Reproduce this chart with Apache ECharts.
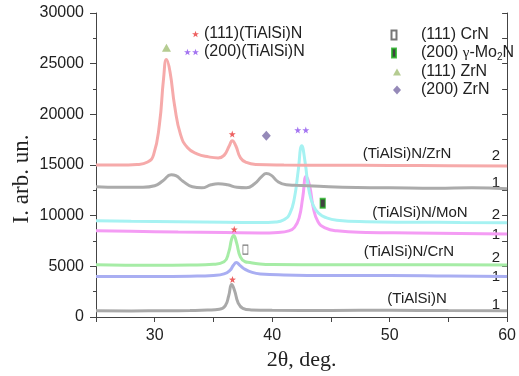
<!DOCTYPE html>
<html>
<head>
<meta charset="utf-8">
<script src="https://cdn.jsdelivr.net/npm/echarts@6/dist/echarts.min.js"></script>
<style>
  html, body { margin: 0; padding: 0; background: #fff; }
  #chart { width: 519px; height: 376px; }
</style>
</head>
<body>
<div id="chart"></div>
<script>
// XRD curves, [2theta, intensity], offset per coating
const tiAlSiN1 = [[25, 620], [28, 600], [31, 620], [33, 640], [34.5, 680], [35.5, 760], [36.0, 1100], [36.3, 2100], [36.55, 3200], [36.8, 2600], [37.1, 1400], [37.5, 850], [38.2, 700], [40, 660], [45, 650], [50, 660], [55, 640], [60, 620]]
const crN1 = [[25, 4000], [30, 4000], [33, 4030], [35, 4100], [35.9, 4250], [36.4, 4600], [36.7, 5100], [36.95, 5380], [37.25, 5100], [37.7, 4700], [38.3, 4400], [39, 4250], [41, 4150], [45, 4100], [50, 4100], [55, 4050], [60, 4000]]
const crN2 = [[25, 5150], [30, 5100], [33, 5130], [35, 5200], [35.9, 5450], [36.3, 6400], [36.55, 7700], [36.72, 8050], [36.95, 7400], [37.3, 5900], [37.7, 5450], [38.1, 5380], [38.6, 5280], [40, 5180], [45, 5150], [50, 5150], [55, 5150], [60, 5120]]
const moN1 = [[25, 8500], [28, 8450], [32, 8380], [36, 8330], [39, 8300], [40.5, 8350], [41.4, 8500], [41.9, 8850], [42.3, 9800], [42.6, 11800], [42.9, 13900], [43.2, 12900], [43.5, 10800], [43.9, 9400], [44.5, 8800], [45.5, 8500], [48, 8350], [52, 8300], [56, 8250], [60, 8200]]
const moN2 = [[25, 9500], [28, 9450], [32, 9400], [36, 9350], [39, 9330], [40.3, 9380], [41.0, 9600], [41.5, 10200], [41.9, 11800], [42.2, 14300], [42.52, 16900], [42.8, 15300], [43.1, 12700], [43.5, 11000], [44.0, 10200], [44.6, 9800], [45.5, 9550], [48, 9400], [52, 9350], [56, 9330], [60, 9300]]
const zrN1 = [[25, 12850], [27, 12800], [29, 12800], [30, 12950], [30.7, 13450], [31.4, 14050], [31.8, 13950], [32.4, 13400], [33.2, 12850], [34, 12750], [34.8, 13050], [35.4, 13150], [36.2, 13050], [37, 12800], [37.8, 12750], [38.5, 13150], [39.1, 13850], [39.5, 14150], [39.9, 14000], [40.5, 13350], [41.2, 13050], [42, 13000], [44, 12900], [46, 12800], [50, 12750], [54, 12700], [57, 12750], [60, 12650]]
const zrN2 = [[25, 15000], [27, 15000], [28.5, 15050], [29.4, 15300], [29.9, 16000], [30.4, 19000], [30.75, 23500], [31.0, 25400], [31.3, 24200], [31.7, 20800], [32.2, 18000], [32.8, 16700], [33.6, 16100], [34.6, 15800], [35.4, 15700], [35.9, 15950], [36.35, 16900], [36.6, 17400], [36.9, 16900], [37.3, 15700], [37.8, 15250], [38.6, 15050], [41, 15000], [45, 14980], [50, 14950], [55, 14930], [60, 14900]]

// phase markers
const tiAlSiN111 = [[36.6, 18050], [36.77, 8650], [36.62, 3700]]
const tiAlSiN200 = [[42.52, 18450]]
const crN111 = [[37.72, 6650]]
const mo2N200 = [[44.3, 11220]]
const zrN111 = [[31.0, 26580]]
const zrN200 = [[39.5, 17880]]

const curveLabels = [
  { text: '(TiAlSi)N/ZrN', x: 407, y: 154 },
  { text: '2', x: 496, y: 156 },
  { text: '1', x: 496, y: 183 },
  { text: '(TiAlSi)N/MoN', x: 420, y: 213 },
  { text: '2', x: 496, y: 215 },
  { text: '1', x: 496, y: 235 },
  { text: '(TiAlSi)N/CrN', x: 409, y: 252 },
  { text: '2', x: 496, y: 258 },
  { text: '1', x: 496, y: 277 },
  { text: '(TiAlSi)N', x: 417, y: 299 },
  { text: '1', x: 496, y: 305 }
]

const star = 'M5,0L6.18,3.38L9.76,3.45L6.9,5.62L7.94,9.05L5,7L2.06,9.05L3.1,5.62L0.24,3.45L3.82,3.38Z'
const star2 = 'M16,0L17.18,3.38L20.76,3.45L17.9,5.62L18.94,9.05L16,7L13.06,9.05L14.1,5.62L11.24,3.45L14.82,3.38Z'

const sans = 'Liberation Sans'
const serif = 'Liberation Serif'
const ink = '#222'
const frame = '#444'

const lineSeries = (name, data, color) => ({
  name,
  type: 'line',
  data,
  smooth: 0.5,
  showSymbol: false,
  silent: true,
  lineStyle: { color, width: 3 },
  z: 2
})

const markSeries = (name, data, symbol, size, style) => ({
  name,
  type: 'scatter',
  data,
  symbol,
  symbolSize: size,
  itemStyle: style,
  silent: true,
  z: 5
})

const chart = echarts.init(document.getElementById('chart'))
chart.setOption({
  animation: false,
  backgroundColor: '#fff',
  grid: { left: 96, right: 8, top: 13, bottom: 56 },
  legend: [
    {
      left: 179,
      top: 21,
      orient: 'vertical',
      itemWidth: 15,
      itemHeight: 7,
      itemGap: 2,
      selectedMode: false,
      textStyle: { fontFamily: sans, fontSize: 16, color: ink, lineHeight: 16 },
      data: [
        { name: '(111)(TiAlSi)N', icon: 'path://M0.24,0M20.76,9.05' + star2 },
        { name: '(200)(TiAlSi)N', icon: 'path://' + star + star2 }
      ]
    },
    {
      left: 382,
      top: 22,
      orient: 'vertical',
      itemWidth: 28,
      itemHeight: 12,
      itemGap: 2,
      selectedMode: false,
      textStyle: {
        fontFamily: sans,
        fontSize: 16,
        color: ink,
        lineHeight: 16,
        rich: {
          g: { fontFamily: serif, fontSize: 15, color: ink },
          sub: { fontFamily: sans, fontSize: 10, color: ink, padding: [8, 0, 0, 0] }
        }
      },
      formatter: (n) => (n === '(200) γ-Mo2N' ? '(200) {g|γ}-Mo{sub|2}N' : n),
      data: [
        { name: '(111) CrN', icon: 'path://M0,0M28,12M3.5,1.5h5v9h-5z' },
        { name: '(200) γ-Mo2N', icon: 'path://M0,0M28,12M4,1.5h4v9h-4z' },
        { name: '(111) ZrN', icon: 'path://M0,0M28,12M9,2.5L13,9.5H5Z' },
        { name: '(200) ZrN', icon: 'path://M0,0M28,12M9,1.5L13,6L9,10.5L5,6Z' }
      ]
    }
  ],
  xAxis: [
    {
      type: 'value',
      min: 25,
      max: 60,
      interval: 5,
      position: 'bottom',
      axisLine: { show: true, lineStyle: { color: frame, width: 1 } },
      axisTick: { show: true, inside: false, length: 5, lineStyle: { color: frame } },
      axisLabel: {
        formatter: (v) => (v % 10 === 0 ? String(v) : ''),
        fontFamily: sans,
        fontSize: 16,
        color: ink,
        margin: 11
      },
      splitLine: { show: false },
      name: '2θ, deg.',
      nameLocation: 'middle',
      nameGap: 32,
      nameTextStyle: { fontFamily: serif, fontSize: 22, color: ink }
    },
    {
      type: 'value',
      min: 25,
      max: 60,
      interval: 5,
      position: 'top',
      axisLine: { show: true, lineStyle: { color: frame, width: 1 } },
      axisTick: { show: true, inside: true, length: 5, lineStyle: { color: frame } },
      axisLabel: { show: false },
      splitLine: { show: false }
    }
  ],
  yAxis: [
    {
      type: 'value',
      min: 0,
      max: 30000,
      interval: 5000,
      position: 'left',
      axisLine: { show: true, lineStyle: { color: frame, width: 1 } },
      axisTick: { show: true, inside: false, length: 6, lineStyle: { color: frame } },
      minorTick: { show: true, splitNumber: 2, length: 3, lineStyle: { color: frame } },
      axisLabel: { formatter: (v) => String(v), fontFamily: sans, fontSize: 16, color: ink, margin: 12 },
      splitLine: { show: false }
    },
    {
      type: 'value',
      min: 0,
      max: 30000,
      interval: 2500,
      position: 'right',
      axisLine: { show: true, lineStyle: { color: frame, width: 1 } },
      axisTick: { show: true, inside: true, length: 5, lineStyle: { color: frame } },
      axisLabel: { show: false },
      splitLine: { show: false }
    }
  ],
  graphic: [
    {
      type: 'text',
      x: 22,
      y: 179,
      rotation: Math.PI / 2,
      silent: true,
      style: {
        text: 'I. arb. un.',
        fill: ink,
        font: '23px "Liberation Serif"',
        align: 'center',
        verticalAlign: 'middle'
      }
    }
  ].concat(curveLabels.map((l) => ({
    type: 'text',
    x: l.x,
    y: l.y,
    silent: true,
    style: {
      text: l.text,
      fill: ink,
      font: '15px "Liberation Sans"',
      align: 'center',
      verticalAlign: 'middle'
    }
  }))),
  series: [
    lineSeries('TiAlSiN-1', tiAlSiN1, '#a9a9a9'),
    lineSeries('CrN-1', crN1, '#a9aef2'),
    lineSeries('CrN-2', crN2, '#a6eca6'),
    lineSeries('MoN-1', moN1, '#f49cf4'),
    lineSeries('MoN-2', moN2, '#a6f2f2'),
    lineSeries('ZrN-1', zrN1, '#ababab'),
    lineSeries('ZrN-2', zrN2, '#f6aaaa'),
    markSeries('(111)(TiAlSi)N', tiAlSiN111, 'path://' + star, [7, 7], { color: '#e83a3a' }),
    markSeries('(200)(TiAlSi)N', tiAlSiN200, 'path://' + star + star2, [15, 7], { color: '#8d52ee' }),
    markSeries('(111) CrN', crN111, 'rect', [5, 9], { color: '#fff', borderColor: '#555', borderWidth: 1 }),
    markSeries('(200) γ-Mo2N', mo2N200, 'rect', [5, 9], { color: '#111', borderColor: '#22b022', borderWidth: 1.5 }),
    markSeries('(111) ZrN', zrN111, 'triangle', [9, 8], { color: '#a3bf76' }),
    markSeries('(200) ZrN', zrN200, 'diamond', [9, 10], { color: '#7b6ca6' })
  ]
})
</script>
</body>
</html>
